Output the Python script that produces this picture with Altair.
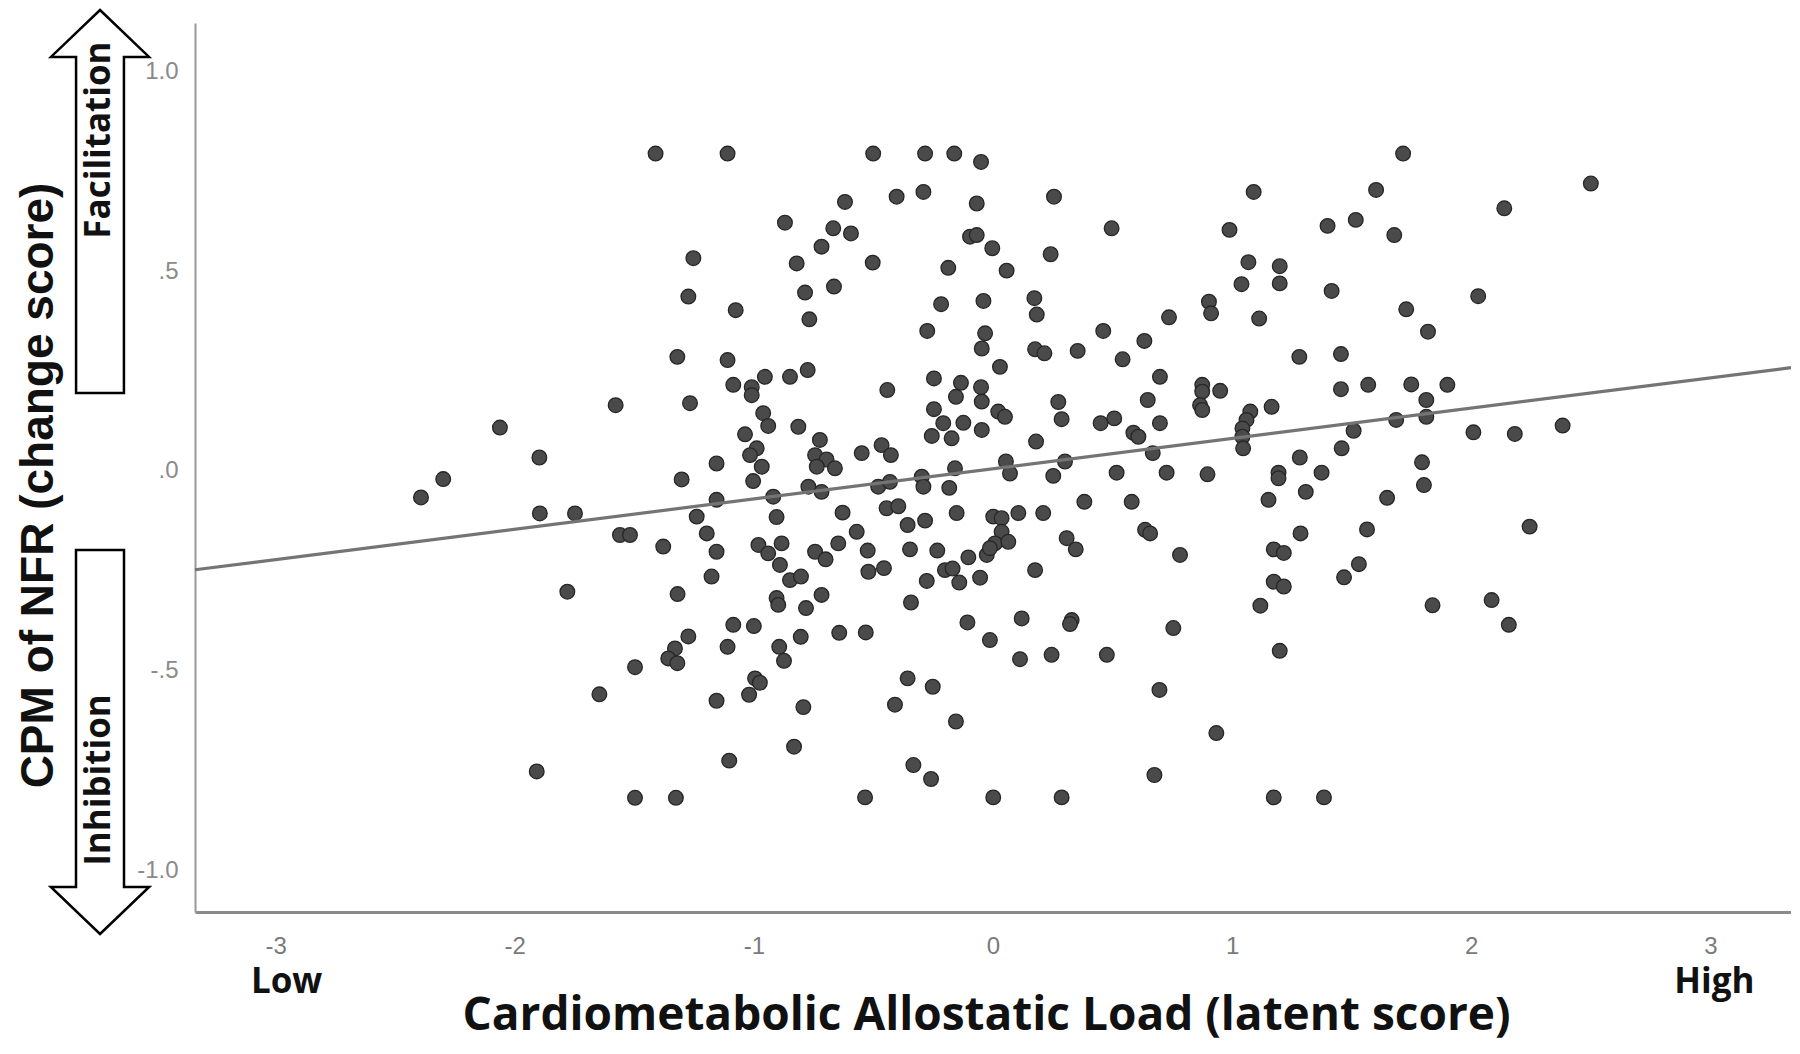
import altair as alt
import pandas as pd

# ---- data ----
x_vals = [
    -1.411, -1.253, -1.274, -1.320, -1.267, -1.578, -2.062, -1.897, -1.302, -2.299, -2.392, -1.895, -1.748,
    -1.560, -1.518, -1.379, -1.780, -1.319, -1.274, -1.330, -1.358, -1.320, -1.497, -1.646, -1.908, -1.497, -1.326,
    -1.110, -0.501, -0.284, -0.162, -0.050, -0.403, -0.291, 0.255, -0.619, -0.068, -0.870, -0.668, -0.594, 0.496,
    -0.096, -0.068, -0.717, -0.003, 0.241, -0.821, -0.503, -0.187, 0.057, -0.786, -0.665, -1.076, -0.768, -0.217,
    -0.040, 0.173, 0.183, 0.736, -0.275, -0.033, -0.047, 0.461, 0.633, -1.110, 0.176, 0.215, 0.354, 0.542,
    0.029, 0.698, -1.086, -1.009, -0.954, -0.849, -0.775, -0.247, -0.134, -0.050, -1.009, -0.442, -0.155, -0.047,
    0.273, 0.287, 0.647, -0.961, -0.940, -0.247, 0.022, 0.050, -0.814, -0.208, -0.124, 0.450, 0.507, 0.698,
    -1.037, -0.256, -0.173, -0.047, 0.180, 0.587, 0.608, -0.724, -0.988, -1.016, -1.156, -0.967, -0.744, -0.696,
    -0.737, -0.661, -0.549, -0.466, -0.427, -0.159, 0.054, 0.071, 0.301, 0.252, 0.668, 0.517, 0.726, -1.003,
    -0.772, -0.717, -0.480, -0.431, -0.298, -0.291, -0.183, -1.156, -0.919, 0.382, 0.580, -1.239, -0.905, -0.629,
    -0.445, -0.396, -0.152, 0.001, 0.106, 0.210,
    -1.197, -1.156, -1.177, -0.981, -0.940, -0.884, -0.891, -0.849, -0.803, -0.744, -0.700, -0.647, -0.570, -0.524,
    -0.521, -0.456, -0.357, -0.284, -0.347, -0.233, -0.103, -0.026, 0.036, 0.036, 0.008, 0.064, -0.013, -0.201,
    -0.169, -0.141, -0.277, -0.054, 0.176, 0.308, 0.346, 0.636, 0.657, 0.782, -0.905, -0.898, -0.782, -0.717,
    -0.343, -1.086, -1.000, -1.110, -0.894, -0.874, -0.804, -0.643, -0.532, -0.107, -0.013, 0.120, 0.113, 0.245,
    0.329, 0.322, 0.476, 0.754, -0.995, -0.975, -1.020, -1.156, -0.793, -0.357, -0.252, -0.410, -0.155, 0.696,
    -0.832, -1.103, -0.333, -0.259, 0.675, -0.535, 0.001, 0.287,
    1.715, 2.500, 1.090, 1.602, 2.138, 0.989, 1.399, 1.517, 1.678, 1.068, 1.199, 1.039, 1.199, 1.416,
    2.029, 0.903, 0.912, 1.113, 1.728, 1.819, 1.281, 1.455, 0.875, 0.875, 0.950, 1.455, 1.569, 1.749,
    1.900, 0.866, 0.875, 1.165, 1.076, 1.060, 1.812, 1.812, 1.686, 1.043, 1.043, 1.046, 1.508, 2.009,
    2.182, 2.382, 0.897, 1.458, 1.283, 1.194, 1.194, 1.374, 1.794, 1.802, 1.152, 1.308, 1.648,
    2.244, 1.564, 1.286, 1.174, 1.216, 1.530, 1.468, 1.174, 1.216, 1.118, 1.838, 2.085, 2.157, 1.199,
    0.934, 1.174, 1.384,
]
y_vals = [
    0.794, 0.532, 0.436, 0.285, 0.169, 0.164, 0.108, 0.033, -0.022, -0.021, -0.067, -0.107, -0.107,
    -0.161, -0.161, -0.190, -0.303, -0.309, -0.415, -0.445, -0.470, -0.482, -0.492, -0.560, -0.753, -0.819, -0.819,
    0.794, 0.794, 0.794, 0.794, 0.773, 0.686, 0.698, 0.686, 0.673, 0.669, 0.621, 0.607, 0.594, 0.607,
    0.586, 0.590, 0.561, 0.557, 0.542, 0.519, 0.521, 0.508, 0.501, 0.446, 0.461, 0.402, 0.379, 0.417,
    0.425, 0.432, 0.391, 0.384, 0.350, 0.344, 0.306, 0.350, 0.325, 0.277, 0.304, 0.294, 0.300, 0.279,
    0.260, 0.235, 0.215, 0.209, 0.235, 0.235, 0.252, 0.231, 0.220, 0.209, 0.189, 0.202, 0.185, 0.173,
    0.172, 0.129, 0.177, 0.144, 0.112, 0.154, 0.148, 0.135, 0.110, 0.119, 0.120, 0.119, 0.131, 0.119,
    0.091, 0.087, 0.081, 0.102, 0.073, 0.095, 0.085, 0.077, 0.056, 0.039, 0.018, 0.010, 0.039, 0.028,
    0.010, 0.006, 0.044, 0.064, 0.039, 0.006, 0.023, -0.007, 0.023, -0.013, 0.044, -0.005, -0.005, -0.026,
    -0.040, -0.053, -0.040, -0.028, -0.015, -0.040, -0.043, -0.073, -0.065, -0.078, -0.078, -0.115, -0.116, -0.105,
    -0.094, -0.089, -0.106, -0.115, -0.106, -0.106,
    -0.157, -0.203, -0.265, -0.186, -0.207, -0.182, -0.236, -0.274, -0.265, -0.203, -0.222, -0.182, -0.153, -0.200,
    -0.253, -0.244, -0.136, -0.125, -0.197, -0.200, -0.217, -0.211, -0.119, -0.153, -0.182, -0.178, -0.194, -0.249,
    -0.245, -0.280, -0.276, -0.268, -0.249, -0.169, -0.197, -0.148, -0.157, -0.211, -0.319, -0.336, -0.344, -0.311,
    -0.330, -0.386, -0.389, -0.441, -0.441, -0.476, -0.416, -0.406, -0.405, -0.380, -0.424, -0.370, -0.472, -0.461,
    -0.374, -0.384, -0.461, -0.394, -0.520, -0.531, -0.561, -0.576, -0.592, -0.520, -0.541, -0.586, -0.628, -0.549,
    -0.691, -0.726, -0.737, -0.772, -0.762, -0.818, -0.818, -0.818,
    0.794, 0.719, 0.698, 0.703, 0.657, 0.603, 0.613, 0.628, 0.590, 0.522, 0.512, 0.467, 0.469, 0.450,
    0.437, 0.423, 0.394, 0.381, 0.404, 0.348, 0.285, 0.292, 0.215, 0.198, 0.200, 0.204, 0.215, 0.216,
    0.215, 0.164, 0.152, 0.160, 0.148, 0.127, 0.177, 0.135, 0.127, 0.106, 0.085, 0.056, 0.100, 0.096,
    0.092, 0.113, -0.009, 0.056, 0.033, -0.005, -0.019, -0.005, 0.021, -0.036, -0.073, -0.053, -0.068,
    -0.140, -0.147, -0.157, -0.197, -0.206, -0.234, -0.267, -0.278, -0.290, -0.338, -0.337, -0.324, -0.386, -0.451,
    -0.657, -0.818, -0.818,
]
fit_x = [-3.337, 3.337]
fit_y = [-0.248, 0.258]
x_ticks = [-3, -2, -1, 0, 1, 2, 3]
y_ticks = [-1.0, -0.5, 0.0, 0.5, 1.0]
low_label, low_x = "Low", -3
high_label, high_x = "High", 3

pts = pd.DataFrame({"x": x_vals, "y": y_vals})
fit = pd.DataFrame({"x": fit_x, "y": fit_y})
one = pd.DataFrame({"k": [0]})

W, H = 1596, 889
TITLE_FONT = "Open Sans"
xscale = alt.Scale(domain=[-3.337, 3.337], nice=False, zero=False)
yscale = alt.Scale(domain=[-1.105, 1.121], nice=False, zero=False)

x_axis = alt.Axis(
    values=x_ticks, labelExpr="'' + datum.value", ticks=False, tickSize=0, grid=False,
    domainColor="#8a8a8a", domainWidth=3,
    labelFont="Liberation Sans Narrow, Liberation Sans", labelFontSize=24, labelColor="#7a7a7a",
    labelPadding=22,
    title="Cardiometabolic Allostatic Load (latent score)",
    titleFont=TITLE_FONT, titleFontSize=46, titleFontWeight="bold", titleColor="#111111",
    titleX=791, titleY=103, titleAlign="center", titleBaseline="middle",
)
y_axis = alt.Axis(
    values=y_ticks, ticks=False, tickSize=0, grid=False,
    labelExpr="datum.value == 1 ? '1.0' : datum.value == -1 ? '-1.0' : datum.value == 0 ? '.0' : datum.value == 0.5 ? '.5' : '-.5'",
    domainColor="#999999", domainWidth=2,
    labelFont="Liberation Sans Narrow, Liberation Sans", labelFontSize=24, labelColor="#8a8a8a",
    labelPadding=17,
    title="CPM of NFR (change score)",
    titleFont="Liberation Sans", titleFontSize=46, titleFontWeight="bold", titleColor="#111111",
    titleAngle=270, titleX=-157, titleY=462, titleAlign="center", titleBaseline="middle",
)

points = alt.Chart(pts).mark_circle(
    size=215, color="#4a4a4a", stroke="#262626", strokeWidth=1.3, opacity=1
).encode(
    x=alt.X("x:Q", scale=xscale, axis=x_axis),
    y=alt.Y("y:Q", scale=yscale, axis=y_axis),
)

line = alt.Chart(fit).mark_line(color="#747474", strokeWidth=3.2).encode(
    x=alt.X("x:Q", scale=xscale), y=alt.Y("y:Q", scale=yscale)
)

UP = "M 0 -1 L 0.256 -0.755 L 0.125 -0.755 L 0.125 1 L -0.125 1 L -0.125 -0.755 L -0.256 -0.755 Z"
DOWN = "M 0 1 L 0.256 0.755 L 0.125 0.755 L 0.125 -1 L -0.125 -1 L -0.125 0.755 L -0.256 0.755 Z"

arrow_up = alt.Chart(one).mark_point(
    shape=UP, size=383 * 383, filled=True, fill="white", stroke="black", strokeWidth=2.5, opacity=1
).encode(x=alt.value(-95), y=alt.value(178.5))
arrow_down = alt.Chart(one).mark_point(
    shape=DOWN, size=384 * 384, filled=True, fill="white", stroke="black", strokeWidth=2.5, opacity=1
).encode(x=alt.value(-95), y=alt.value(719))

txt_style = dict(font=TITLE_FONT, fontWeight="bold", color="#111111", align="center", baseline="middle")

fac = alt.Chart(one).mark_text(text="Facilitation", angle=270, fontSize=35, **txt_style).encode(
    x=alt.value(-96), y=alt.value(117))
inh = alt.Chart(one).mark_text(text="Inhibition", angle=270, fontSize=35, **txt_style).encode(
    x=alt.value(-96), y=alt.value(757))

low = alt.Chart(pd.DataFrame({"x": [low_x], "t": [low_label]})).mark_text(
    fontSize=35, dx=11, **txt_style
).encode(x=alt.X("x:Q", scale=xscale), text="t:N", y=alt.value(959))
high = alt.Chart(pd.DataFrame({"x": [high_x], "t": [high_label]})).mark_text(
    fontSize=35, dx=4, **txt_style
).encode(x=alt.X("x:Q", scale=xscale), text="t:N", y=alt.value(959))

chart = alt.layer(points, line, arrow_up, arrow_down, fac, inh, low, high).properties(
    width=W, height=H,
    autosize=alt.AutoSizeParams(type="none"),
    padding={"left": 187, "top": 15, "right": 0, "bottom": 134},
    background="white",
).configure_view(stroke=None)

chart.save("out.html", embed_options={"renderer": "svg", "actions": False})
